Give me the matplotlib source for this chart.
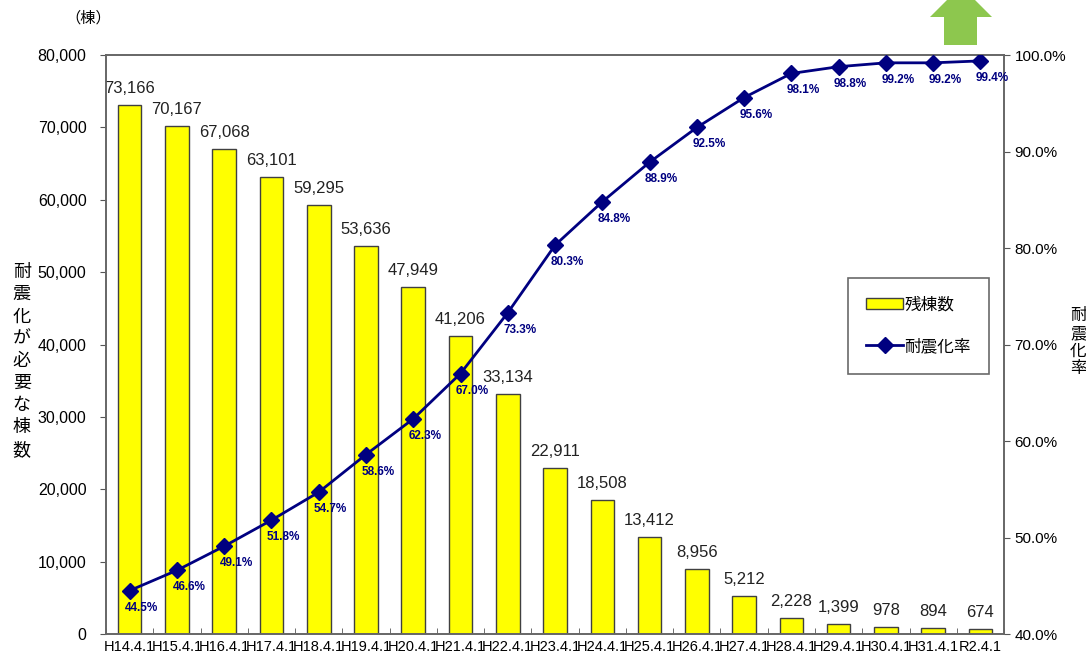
import numpy as np
import matplotlib.pyplot as plt
from matplotlib.patches import Polygon
from matplotlib.ticker import FuncFormatter

plt.rcParams['font.family'] = ['Liberation Sans', 'Noto Sans CJK JP', 'DejaVu Sans']
JP = ['Noto Sans CJK JP', 'DejaVu Sans']

labels = ['H14.4.1', 'H15.4.1', 'H16.4.1', 'H17.4.1', 'H18.4.1', 'H19.4.1',
          'H20.4.1', 'H21.4.1', 'H22.4.1', 'H23.4.1', 'H24.4.1', 'H25.4.1',
          'H26.4.1', 'H27.4.1', 'H28.4.1', 'H29.4.1', 'H30.4.1', 'H31.4.1', 'R2.4.1']
remaining = [73166, 70167, 67068, 63101, 59295, 53636, 47949, 41206, 33134,
             22911, 18508, 13412, 8956, 5212, 2228, 1399, 978, 894, 674]
rate = [44.5, 46.6, 49.1, 51.8, 54.7, 58.6, 62.3, 67.0, 73.3, 80.3,
        84.8, 88.9, 92.5, 95.6, 98.1, 98.8, 99.2, 99.2, 99.4]

x = np.arange(len(labels))

fig = plt.figure(figsize=(10.86, 6.56), dpi=100)
ax = fig.add_axes([0.0976, 0.0335, 0.827, 0.8825])
ax2 = ax.twinx()

bars = ax.bar(x, remaining, width=0.5, color='#FFFF00', edgecolor='#404040',
              linewidth=1, label='残棟数', zorder=2)
for xi, v in zip(x, remaining):
    ax.annotate(f'{v:,}', (xi, v), xytext=(0, 9), textcoords='offset pixels',
                ha='center', va='bottom', fontsize=12, color='#222222')

ax.set_xlim(-0.5, len(labels) - 0.5)
ax.set_ylim(0, 80000)
ax.set_yticks(np.arange(0, 80001, 10000))
ax.yaxis.set_major_formatter(FuncFormatter(lambda v, p: f'{int(v):,}'))
ax.set_xticks(x)
ax.set_xticklabels(labels, fontsize=10.5)
ax.set_xticks(np.arange(-0.5, len(labels), 1), minor=True)
ax.tick_params(axis='x', which='major', length=0, pad=4)
ax.tick_params(axis='x', which='minor', direction='in', length=4, color='#555555')
ax.tick_params(axis='y', labelsize=11.5, length=4, pad=10, color='#555555')

line, = ax2.plot(x, rate, color='#000080', lw=2, marker='D', markersize=8,
                 label='耐震化率', zorder=3)
for xi, v in zip(x, rate):
    ax2.annotate(f'{v:.1f}%', (xi, v), xytext=(12, -17), textcoords='offset pixels',
                 ha='center', va='center', fontsize=8.5, fontweight='bold',
                 color='#000080')
ax2.set_ylim(40, 100)
ax2.set_yticks(np.arange(40, 101, 10))
ax2.yaxis.set_major_formatter(FuncFormatter(lambda v, p: f'{v:.1f}%'))
ax2.tick_params(axis='y', labelsize=11, length=4, color='#555555')

for a in (ax, ax2):
    for s in a.spines.values():
        s.set_color('#666666')
        s.set_linewidth(1.2)

ax.set_zorder(ax2.get_zorder() - 1)
ax2.patch.set_visible(False)

leg = ax2.legend([bars, line], ['残棟数', '耐震化率'], loc='upper left',
                 bbox_to_anchor=(0.826, 0.615), prop={'family': JP, 'size': 12},
                 frameon=True, fancybox=False, edgecolor='#444444',
                 labelspacing=1.5, borderpad=1.1, handlelength=2.2,
                 handletextpad=0.1, borderaxespad=0)
leg.get_frame().set_linewidth(1.2)

fig.text(0.02, 0.45, '\n'.join('耐震化が必要な棟数'), family=JP, fontsize=13,
         ha='center', va='center', linespacing=1.3)
fig.text(0.993, 0.478, '\n'.join('耐震化率'), family=JP, fontsize=12,
         ha='center', va='center', linespacing=1.05)
fig.text(0.081, 0.972, '（棟）', family=JP, fontsize=11, ha='center', va='center')

# green arrow at top right
W, H = 1086, 656
pts = [(944, 45), (977, 45), (977, 17), (992, 17), (961, -14), (930, 17), (944, 17)]
arrow = Polygon([(px / W, 1 - py / H) for px, py in pts], closed=True,
                facecolor='#8DC74E', edgecolor='none', transform=fig.transFigure)
fig.add_artist(arrow)

fig.savefig('out.png', dpi=100)
